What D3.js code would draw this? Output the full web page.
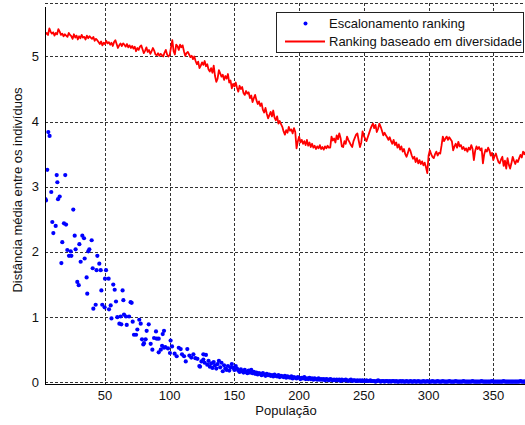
<!DOCTYPE html>
<html><head><meta charset="utf-8">
<script src="https://cdn.jsdelivr.net/npm/d3@7"></script>
<style>html,body{margin:0;padding:0;background:#fff;}svg{display:block;}</style>
</head><body>
<svg id="c" width="525" height="425"></svg>
<script>
// ---------- DATA ----------
const xTicks = [50, 100, 150, 200, 250, 300, 350];
const yTicks = [0, 1, 2, 3, 4, 5];
const xLabel = "População";
const yLabel = "Distância média entre os indivíduos";
const seriesNames = ["Escalonamento ranking", "Ranking baseado em diversidade"];

// Blue: early scattered points [x, y]
const blueEarly = [
 [4,2.81],[4.4,2.79],[5.4,3.26],[6.2,3.84],[7.2,3.78],[8.5,2.92],[9.3,2.46],[10.1,2.29],[11.9,2.40],
 [12.7,3.18],[13.2,3.07],[13.7,2.81],[15,2.85],[16.3,1.83],[17,2.15],[18.3,2.44],[19.3,3.18],[19.9,2.42],
 [20.9,2.03],[22.2,1.94],[23.5,2.01],[24,1.94],[25.5,2.65],[26.6,2.25],[27.3,2.04],[28.6,1.54],[29.7,1.49],
 [30.2,2.12],[31.2,1.85],[32.5,2.25],[33.8,2.21],[34.3,1.90],[35.8,1.61],[36.3,1.36],[37.1,2.01],[37.9,2.04],
 [39.7,2.18],[40.5,1.75],[41,1.13],[42.8,1.19],[43.5,1.72],[44.1,1.94],[45.6,1.82],[46.7,1.72],[47.2,1.41],
 [47.9,1.19],[49.7,1.15],[50,1.59],[50.8,1.72],[52.8,1.59],[53.1,1.12],[54.4,1.18],[55,0.98],[56.4,1.50],
 [57.5,1.42],[58.5,1.24],[59.5,1.00],[61.1,0.90],[62.1,1.01],[62.6,0.89],[63.6,1.41],[64.2,1.26],[64.7,1.04],
 [66.2,1.01],[66.8,0.88],[68.6,1.01],[69.8,1.23],[70.6,1.22],[71.4,0.93],[72.4,0.73],[74,0.73],[75,0.81],
 [76.5,0.96],[77.6,0.90],[78.6,0.66],[79.6,0.58],[80.1,0.60],[81.4,0.66],[82.2,0.79],[83.8,0.89],[85.3,0.59],
 [86.6,0.50],[87.9,0.68],[89.4,0.78],[90,0.67],[91.5,0.67],[91.5,0.46],[93.1,0.50],[94.1,0.56],[94.6,0.74],
 [95.6,0.53],[95.6,0.79],[96.6,0.54],[98.7,0.52],[100.2,0.45],[100.7,0.64],[101.8,0.55],[103.8,0.44],
 [105.4,0.40],[107,0.53],[108.5,0.51],[109.5,0.43],[111.1,0.40],[112.4,0.32],[113.6,0.51],[115.2,0.41],
 [116.7,0.38],[118.3,0.43],[119.8,0.37],[121.4,0.36],[122.9,0.25],[123.4,0.24],[124.5,0.32],[126,0.35],[126,0.43]
];
// Blue: dense tail, one value per population size from blueTailStart
const blueTailStart = 127;
const blueTail = [
 0.30,0.42,0.27,0.33,0.24,0.29,0.22,0.31,0.26,0.21,
 0.28,0.33,0.23,0.30,0.17,0.26,0.21,0.19,0.25,0.18,
 0.23,0.28,0.22,0.19,0.25,0.21,0.18,0.16,0.20,0.17,
 0.15,0.19,0.16,0.14,0.18,0.15,0.19,0.14,0.16,0.13,
 0.15,0.12,0.14,0.13,0.11,0.14,0.12,0.10,0.13,0.11,
 0.12,0.10,0.11,0.09,0.12,0.10,0.09,0.11,0.08,0.10,
 0.09,0.08,0.10,0.07,0.09,0.08,0.07,0.09,0.06,0.08,
 0.07,0.06,0.08,0.07,0.05,0.07,0.06,0.08,0.05,0.06,
 0.05,0.07,0.05,0.06,0.04,0.06,0.05,0.04,0.06,0.04,
 0.05,0.04,0.05,0.03,0.05,0.04,0.03,0.05,0.04,0.03,
 0.04,0.03,0.04,0.03,0.04,0.02,0.04,0.03,0.03,0.04,
 0.03,0.02,0.03,0.04,0.02,0.03,0.03,0.02,0.03,0.02,
 0.03,0.02,0.03,0.02,0.02,0.03,0.02,0.02,0.03,0.02,
 0.02,0.02,0.01,0.02,0.03,0.02,0.01,0.02,0.02,0.01,
 0.02,0.02,0.01,0.02,0.01,0.02,0.02,0.01,0.02,0.01,
 0.01,0.02,0.01,0.02,0.01,0.01,0.02,0.01,0.01,0.02,
 0.01,0.01,0.02,0.01,0.01,0.02,0.01,0.01,0.01,0.02,
 0.01,0.01,0.02,0.01,0.01,0.01,0.02,0.01,0.01,0.01,
 0.02,0.01,0.01,0.01,0.02,0.01,0.01,0.01,0.01,0.02,
 0.01,0.01,0.01,0.01,0.02,0.01,0.01,0.01,0.01,0.01,
 0.02,0.01,0.01,0.01,0.01,0.01,0.01,0.02,0.01,0.01,
 0.01,0.01,0.01,0.01,0.02,0.01,0.01,0.01,0.01,0.01,
 0.01,0.01,0.02,0.01,0.01,0.01,0.01,0.01,0.01,0.01,
 0.01,0.02,0.01,0.01,0.01,0.01,0.01,0.01,0.01,0.01,
 0.01,0.01,0.01,0.01,0.02,0.01,0.01,0.01,0.01
];
// Red: one value per population size from redStart
const redStart = 4;
const redValues = [
 5.34,5.36,5.33,5.43,5.38,5.35,5.37,5.32,5.36,5.34,
 5.42,5.38,5.33,5.35,5.31,5.34,5.32,5.30,5.36,5.33,
 5.31,5.27,5.34,5.29,5.32,5.26,5.31,5.28,5.33,5.29,
 5.30,5.26,5.32,5.28,5.31,5.29,5.27,5.30,5.24,5.27,
 5.25,5.22,5.19,5.23,5.17,5.21,5.19,5.24,5.20,5.22,
 5.18,5.21,5.16,5.22,5.25,5.19,5.13,5.17,5.20,5.16,
 5.20,5.18,5.15,5.19,5.14,5.17,5.13,5.16,5.12,5.15,
 5.08,5.13,5.10,5.15,5.17,5.11,5.05,5.09,5.14,5.07,
 5.10,5.04,5.08,5.13,5.09,5.03,5.02,5.05,5.01,5.04,
 5.02,5.00,5.06,5.10,5.03,5.00,5.02,5.14,5.25,5.08,
 5.03,5.18,5.16,5.10,5.18,5.14,5.17,5.08,5.01,5.05,
 5.07,5.03,4.99,5.01,4.96,5.00,4.93,4.88,4.92,4.82,
 4.86,4.91,4.87,4.93,4.85,4.88,4.80,4.77,4.82,4.75,
 4.86,4.70,4.61,4.66,4.79,4.74,4.69,4.72,4.64,4.70,
 4.66,4.73,4.60,4.63,4.51,4.58,4.54,4.60,4.52,4.46,
 4.55,4.50,4.53,4.44,4.41,4.47,4.43,4.45,4.36,4.40,
 4.30,4.36,4.41,4.33,4.27,4.31,4.24,4.28,4.18,4.14,
 4.21,4.12,4.05,4.10,4.15,4.08,4.17,4.06,4.02,4.08,
 3.97,4.01,3.96,3.92,3.85,3.80,3.87,3.83,3.92,3.86,
 3.88,3.82,3.90,3.84,3.59,3.70,3.77,3.68,3.72,3.66,
 3.70,3.64,3.72,3.63,3.68,3.61,3.66,3.60,3.63,3.58,
 3.62,3.59,3.64,3.58,3.61,3.57,3.62,3.59,3.63,3.60,
 3.60,3.77,3.71,3.74,3.68,3.79,3.73,3.82,3.75,3.62,
 3.61,3.70,3.66,3.77,3.72,3.68,3.64,3.61,3.70,3.75,
 3.80,3.82,3.71,3.61,3.68,3.85,3.78,3.74,3.70,3.76,
 3.82,3.88,3.93,3.97,3.90,3.95,3.84,3.89,3.97,3.92,
 3.86,3.79,3.83,3.79,3.76,3.72,3.76,3.70,3.66,3.72,
 3.64,3.68,3.60,3.65,3.57,3.62,3.54,3.58,3.50,3.46,
 3.52,3.59,3.55,3.48,3.43,3.46,3.38,3.44,3.36,3.41,
 3.35,3.39,3.33,3.37,3.30,3.21,3.48,3.56,3.50,3.46,
 3.44,3.50,3.54,3.48,3.52,3.51,3.63,3.77,3.70,3.74,
 3.77,3.72,3.76,3.73,3.70,3.56,3.62,3.66,3.60,3.69,
 3.62,3.64,3.58,3.61,3.56,3.59,3.54,3.60,3.57,3.64,
 3.58,3.41,3.55,3.62,3.58,3.61,3.56,3.59,3.36,3.50,
 3.57,3.54,3.60,3.56,3.48,3.52,3.41,3.47,3.51,3.44,
 3.38,3.36,3.42,3.46,3.32,3.40,3.28,3.44,3.34,3.28,
 3.36,3.46,3.40,3.35,3.41,3.38,3.44,3.49,3.45,3.54,
 3.50,3.54
];
const xDomain = [3.65, 374.5];
const yDomain = [-0.026, 5.82];

// ---------- DRAW ----------
const svg = d3.select("#c");
const L = 45, R = 525, T = 3, B = 384;
const FONT = "'Liberation Sans', Arial, Helvetica, sans-serif";
const x = d3.scaleLinear().domain(xDomain).range([L, R]);
const y = d3.scaleLinear().domain(yDomain).range([B, T]);

svg.append("defs").append("clipPath").attr("id","plot")
  .append("rect").attr("x", L).attr("y", T-2).attr("width", R-L).attr("height", B-T+2);

// grid
const grid = svg.append("g").attr("stroke","#333").attr("stroke-width",1).attr("stroke-dasharray","3,2").attr("shape-rendering","crispEdges");
grid.selectAll("line.v").data(xTicks).join("line")
  .attr("x1", d=>Math.round(x(d))+0.5).attr("x2", d=>Math.round(x(d))+0.5)
  .attr("y1", T).attr("y2", B);
grid.selectAll("line.h").data(yTicks).join("line")
  .attr("x1", L).attr("x2", R)
  .attr("y1", d=>Math.round(y(d))+0.5).attr("y2", d=>Math.round(y(d))+0.5);
// top dashed border
grid.append("line").attr("x1",L).attr("x2",R).attr("y1",T+0.5).attr("y2",T+0.5);

const plot = svg.append("g").attr("clip-path","url(#plot)");

// red line
const redData = redValues.map((v,i)=>[redStart+i, v]);
plot.append("path").datum(redData)
  .attr("fill","none").attr("stroke","#ff0000").attr("stroke-width",1.8).attr("stroke-linejoin","round")
  .attr("d", d3.line().x(d=>x(d[0])).y(d=>y(d[1])));

// blue points
const blueData = blueEarly.concat(blueTail.map((v,i)=>[blueTailStart+i, v]));
plot.selectAll("circle.pt").data(blueData).join("circle")
  .attr("class","pt")
  .attr("cx", d=>x(d[0])).attr("cy", d=>y(d[1])).attr("r", 2.1)
  .attr("fill","#0000ff");

// axes lines
svg.append("line").attr("x1",L+0.5).attr("x2",L+0.5).attr("y1",7).attr("y2",B+0.5)
  .attr("stroke","#000").attr("stroke-width",1).attr("shape-rendering","crispEdges");
svg.append("line").attr("x1",L).attr("x2",R).attr("y1",B+0.5).attr("y2",B+0.5)
  .attr("stroke","#000").attr("stroke-width",1).attr("shape-rendering","crispEdges");

// tick labels
svg.append("g").selectAll("text").data(xTicks).join("text")
  .attr("x", d=>x(d)).attr("y", 400).attr("text-anchor","middle")
  .attr("font-family",FONT).attr("font-size",13).attr("fill","#111").text(d=>d);
svg.append("g").selectAll("text").data(yTicks).join("text")
  .attr("x", 39).attr("y", d=>y(d)+4.5).attr("text-anchor","end")
  .attr("font-family",FONT).attr("font-size",13).attr("fill","#111").text(d=>d);

// axis labels
svg.append("text").attr("x",286).attr("y",415).attr("text-anchor","middle")
  .attr("font-family",FONT).attr("font-size",13).attr("fill","#111").text(xLabel);
svg.append("text").attr("transform","translate(22,190) rotate(-90)").attr("text-anchor","middle")
  .attr("font-family",FONT).attr("font-size",13).attr("fill","#111").text(yLabel);

// legend
const lg = svg.append("g");
lg.append("rect").attr("x",276.5).attr("y",12.5).attr("width",247).attr("height",40)
  .attr("fill","#fff").attr("stroke","#222").attr("stroke-width",1).attr("shape-rendering","crispEdges");
lg.append("circle").attr("cx",305.5).attr("cy",23.5).attr("r",2).attr("fill","#0000ff");
lg.append("line").attr("x1",285).attr("x2",325).attr("y1",41.5).attr("y2",41.5)
  .attr("stroke","#ff0000").attr("stroke-width",1.8);
lg.append("text").attr("x",329).attr("y",28).attr("font-family",FONT).attr("font-size",13).attr("fill","#111").text(seriesNames[0]);
lg.append("text").attr("x",329).attr("y",46).attr("font-family",FONT).attr("font-size",13).attr("fill","#111").text(seriesNames[1]);
</script>
</body></html>
